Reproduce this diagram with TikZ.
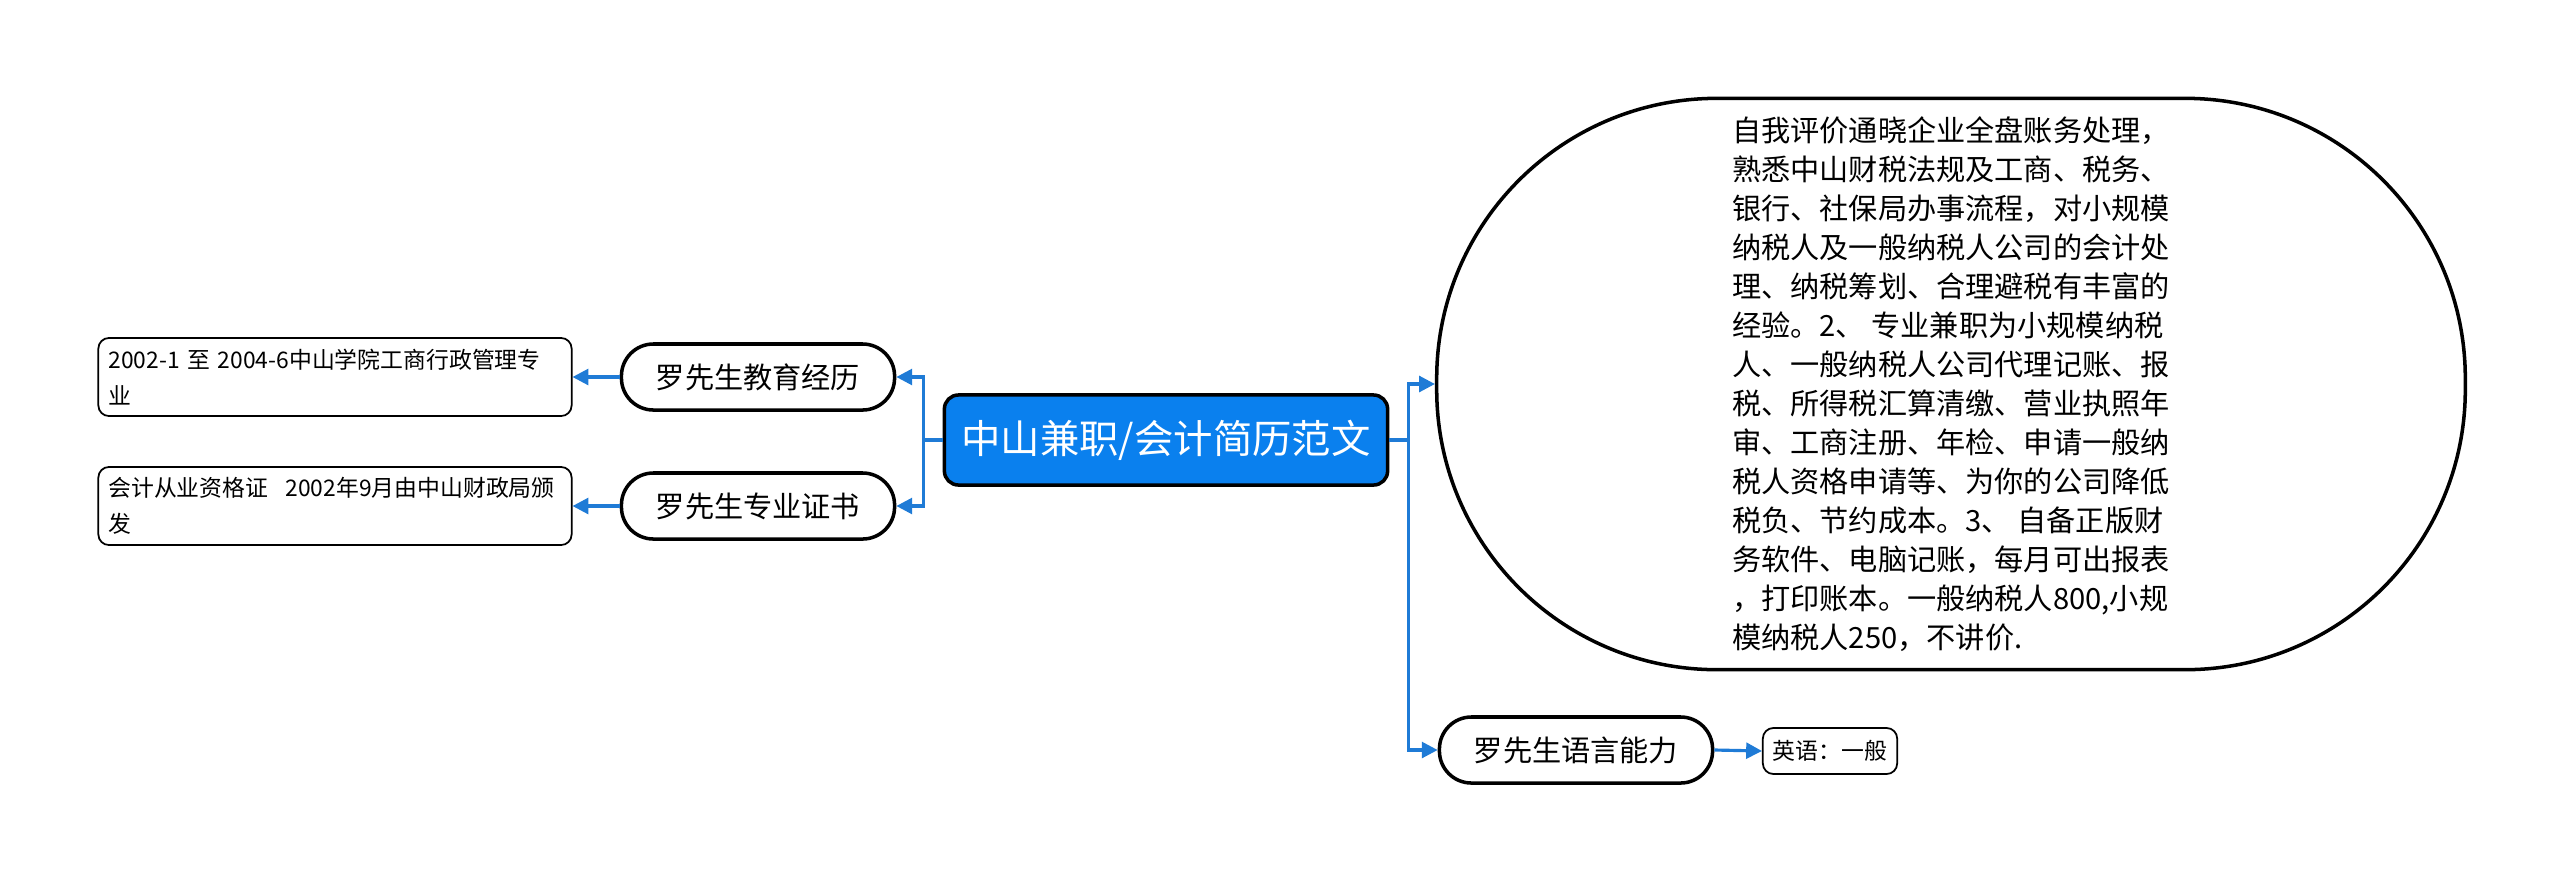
\documentclass[tikz,border=0pt]{standalone}
\usepackage{fontspec}
\setmainfont{Noto Sans CJK SC}
\usetikzlibrary{arrows.meta}
\begin{document}
\begin{tikzpicture}[
        x=0.01cm, y=-0.01cm,
        link/.style={draw=linkb, line width=0.9pt, -{Triangle[length=4.5pt,width=4.5pt]}},
        rootbox/.style={draw=black, line width=1pt, fill=rootb, rounded corners=4pt, text=white, font=\fontsize{11.2}{13}\selectfont, minimum width=4.43cm, minimum height=0.9cm},
        topic/.style={draw=black, line width=1pt, fill=white, rounded corners=0.32cm, font=\fontsize{8.3}{10}\selectfont, minimum width=2.73cm, minimum height=0.66cm},
        leaf/.style={draw=black, line width=0.5pt, rounded corners=3pt, font=\fontsize{6.5}{10.2}\selectfont, align=left, inner xsep=0.1cm, inner ysep=0pt, minimum height=0.78cm},
        bubble/.style={draw=black, line width=1pt, rounded corners=2.8cm, minimum width=10.28cm, minimum height=5.71cm, font=\fontsize{8.3}{11.1}\selectfont, align=left},
      ]
      \definecolor{rootb}{HTML}{0A80EE}
      \definecolor{linkb}{HTML}{1F7BD6}
      \path[use as bounding box] (0,0) rectangle (2560,881);
      % centre
      \node[rootbox] (root) at (1166,440) {中山兼职/会计简历范文};
      % left side
      \node[topic] (edu) at (758,377) {罗先生教育经历};
      \node[topic] (cert) at (758,506) {罗先生专业证书};
      \node[leaf, text width=4.53cm] (eduleaf) at (335,377) {\mbox{2002-1 至 2004-6中山学院工商行政管理专}\\业};
      \node[leaf, text width=4.53cm] (certleaf) at (335,506) {\mbox{会计从业资格证\hspace*{0.75em}2002年9月由中山财政局颁}\\发};
      % right side
      \node[bubble] (self) at (1951,384) {自我评价通晓企业全盘账务处理，\\熟悉中山财税法规及工商、税务、\\银行、社保局办事流程，对小规模\\纳税人及一般纳税人公司的会计处\\理、纳税筹划、合理避税有丰富的\\经验。2、 专业兼职为小规模纳税\\人、一般纳税人公司代理记账、报\\税、所得税汇算清缴、营业执照年\\审、工商注册、年检、申请一般纳\\税人资格申请等、为你的公司降低\\税负、节约成本。3、 自备正版财\\务软件、电脑记账，每月可出报表\\，打印账本。一般纳税人800,小规\\模纳税人250，不讲价.};
      \node[topic] (lang) at (1576,750) {罗先生语言能力};
      \node[leaf, minimum width=1.34cm, minimum height=0.46cm] (langleaf) at (1830,751) {英语：一般};
      % connectors
      \draw[link] (root.west) -- ++(-19,0) |- (edu.east);
      \draw[link] (root.west) -- ++(-19,0) |- (cert.east);
      \draw[link] (edu.west) -- (eduleaf.east);
      \draw[link] (cert.west) -- (certleaf.east);
      \draw[link] (root.east) -- ++(19,0) |- (self.west);
      \draw[link] (root.east) -- ++(19,0) |- (lang.west);
      \draw[link] (lang.east) -- (langleaf.west);
    \end{tikzpicture}
\end{document}
